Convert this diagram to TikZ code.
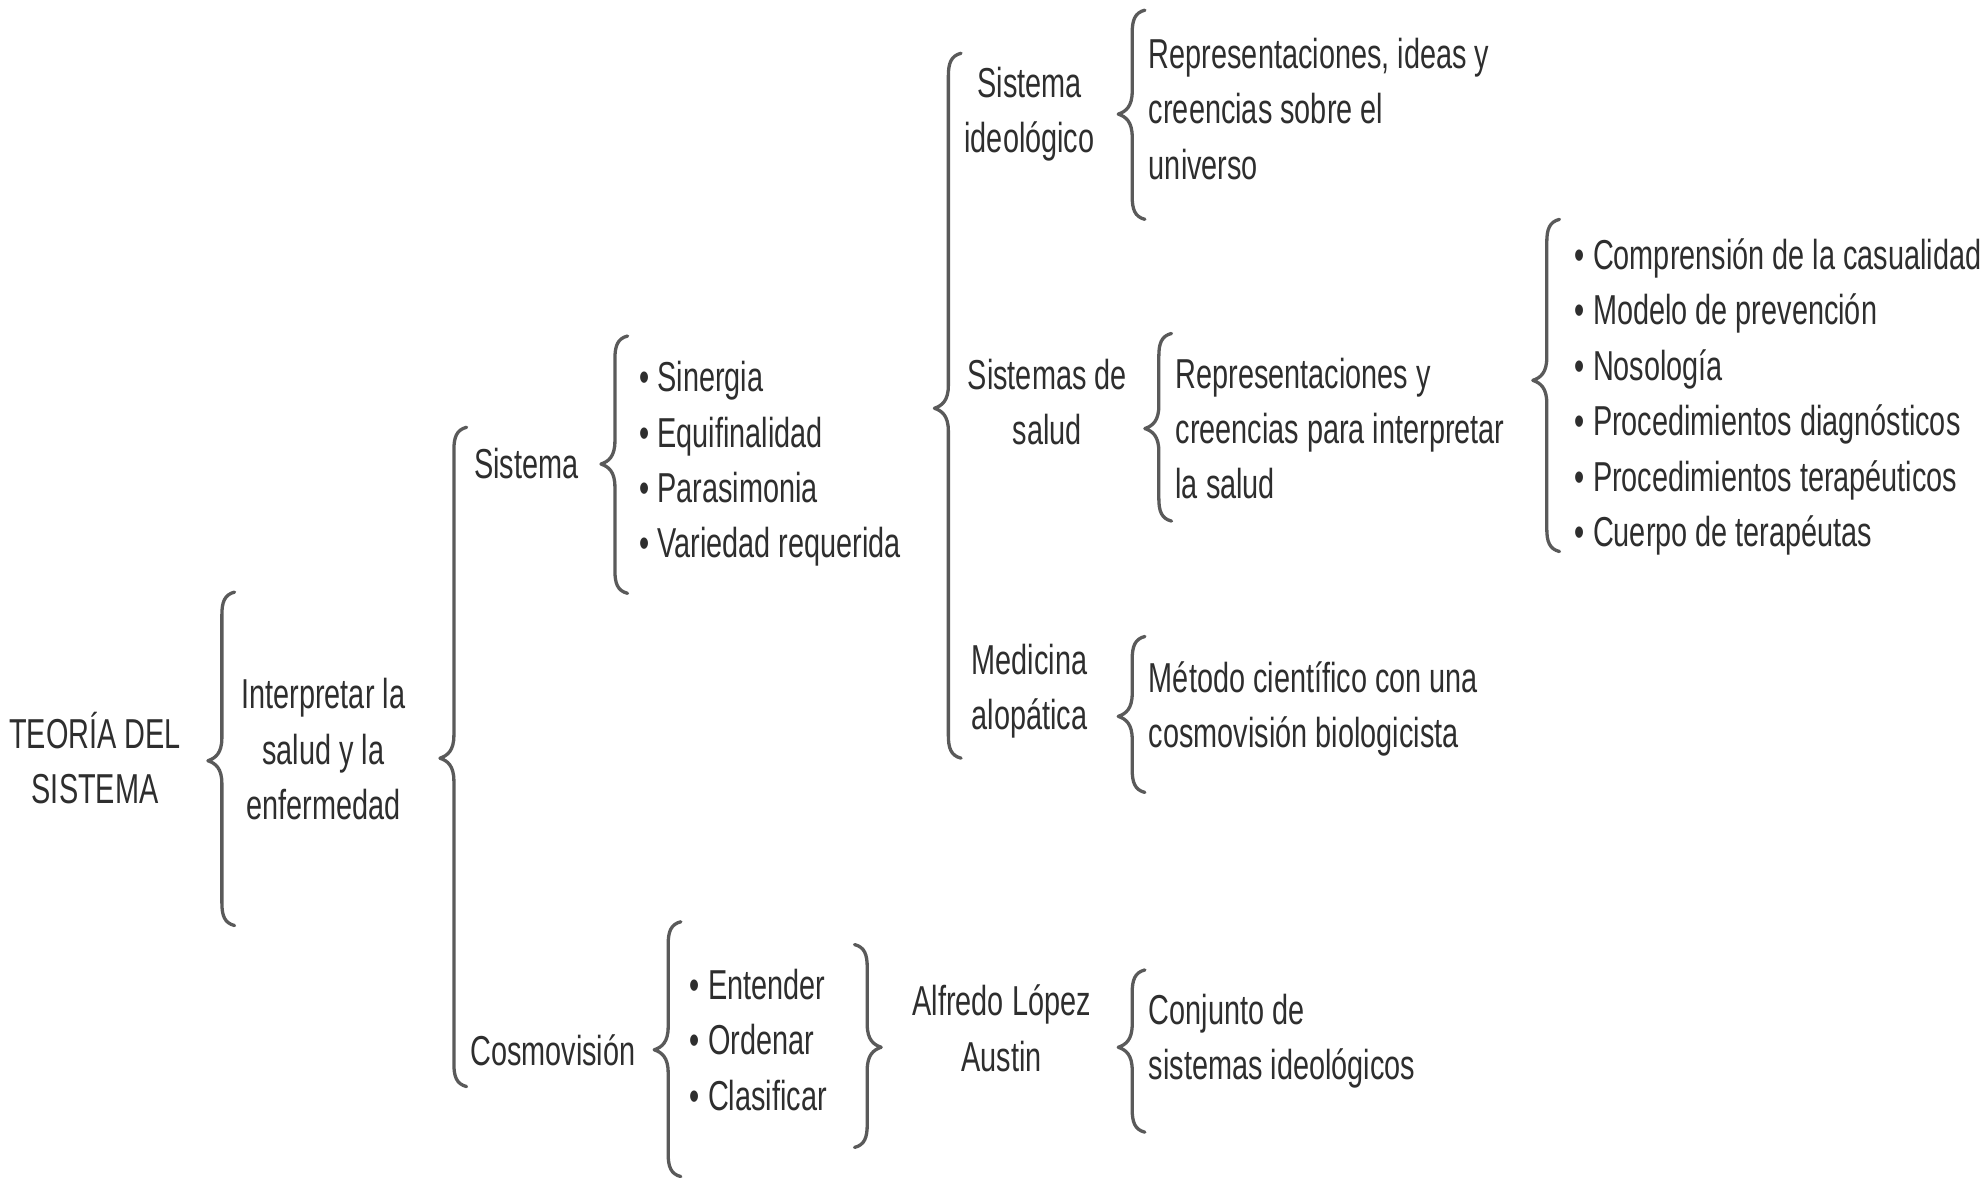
\documentclass[tikz,border=0pt]{standalone}
\usepackage{fontspec}
\setmainfont{Liberation Sans}[FakeStretch=0.69]
\definecolor{txt}{HTML}{2E2E2E}
\definecolor{brc}{HTML}{5A5A5A}
\tikzset{
  br/.style={draw=brc,line width=2.6pt,line cap=round,line join=round},
  lbl/.style={text=txt,inner sep=0pt,font=\fontsize{33}{43.7}\selectfont},
  ctr/.style={lbl,align=center},
  lft/.style={lbl,align=left,anchor=west}
}
% left brace: x, top, bottom, tip
\newcommand\mylbr[4]{\draw[br] ({#1+10},{#2}) .. controls ({#1+2},{#2+2}) and (#1,{#2+8}) .. (#1,{#2+18}) -- (#1,{#4-18}) .. controls (#1,{#4-6}) and ({#1-5},{#4-2}) .. ({#1-11},#4) .. controls ({#1-5},{#4+2}) and (#1,{#4+6}) .. (#1,{#4+18}) -- (#1,{#3-18}) .. controls (#1,{#3-8}) and ({#1+2},{#3-2}) .. ({#1+10},#3);}
% right brace
\newcommand\myrbr[4]{\draw[br] ({#1-10},{#2}) .. controls ({#1-2},{#2+2}) and (#1,{#2+8}) .. (#1,{#2+18}) -- (#1,{#4-18}) .. controls (#1,{#4-6}) and ({#1+5},{#4-2}) .. ({#1+11},#4) .. controls ({#1+5},{#4+2}) and (#1,{#4+6}) .. (#1,{#4+18}) -- (#1,{#3-18}) .. controls (#1,{#3-8}) and ({#1-2},{#3-2}) .. ({#1-10},#3);}
\begin{document}
\begin{tikzpicture}[x=1pt,y=-1pt]
\useasboundingbox[fill=white] (0,0) rectangle (1568,929);
% texts
\node[ctr] (t0) at (75,598) {TEORÍA DEL\\SISTEMA};
\node[ctr] (t1) at (255,591) {Interpretar la\\salud y la\\enfermedad};
\node[ctr] (t2) at (415,366) {Sistema};
\node[lft] (t3) at (504,366) {• Sinergia\\• Equifinalidad\\• Parasimonia\\• Variedad requerida};
\node[ctr] (t4) at (436,828) {Cosmovisión};
\node[lft] (t5) at (544,820) {• Entender\\• Ordenar\\• Clasificar};
\node[ctr] (t6) at (790,811) {Alfredo López\\Austin};
\node[lft] (t7) at (906,821) {Conjunto de\\sistemas ideológicos};
\node[ctr] (t8) at (812,90) {Sistema\\ideológico};
\node[lft] (t9) at (906,86) {Representaciones, ideas y\\creencias sobre el\\universo};
\node[ctr] (t10) at (826,317) {Sistemas de\\salud};
\node[lft] (t11) at (927,338) {Representaciones y\\creencias para interpretar\\la salud};
\node[lft] (t12) at (1242,313) {• Comprensión de la casualidad\\• Modelo de prevención\\• Nosología\\• Procedimientos diagnósticos\\• Procedimientos terapéuticos\\• Cuerpo de terapéutas};
\node[ctr] (t13) at (812,545) {Medicina\\alopática};
\node[lft] (t14) at (906,559) {Método científico con una\\cosmovisión biologicista};
% braces
\mylbr{175}{467}{730}{600}
\mylbr{358}{337}{857}{598}
\mylbr{485}{265}{468}{366}
\mylbr{527}{727}{928}{828}
\myrbr{684}{745}{905}{826}
\mylbr{893}{765}{893}{826}
\mylbr{748}{42}{598}{322}
\mylbr{893}{8}{173}{90}
\mylbr{914}{263}{411}{338}
\mylbr{1220}{173}{435}{300}
\mylbr{893}{502}{625}{565}
\end{tikzpicture}
\end{document}
